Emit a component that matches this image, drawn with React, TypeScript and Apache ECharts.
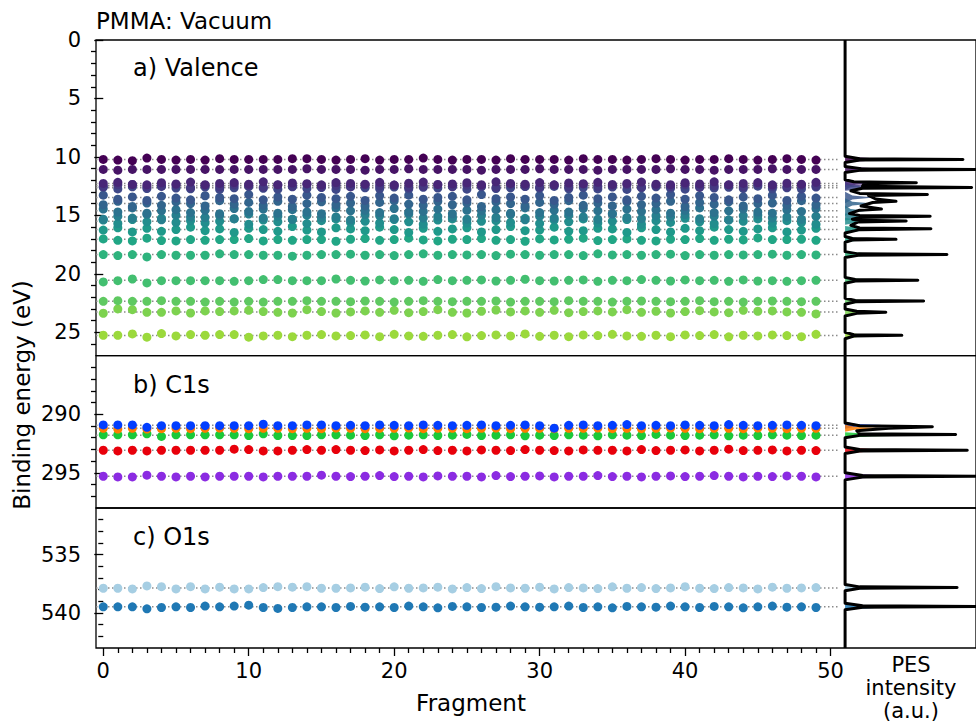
import React, { useEffect, useRef } from "react";
import * as echarts from "echarts";

// ---------------- DATA ----------------
const fragments: number[] = Array.from({ length: 50 }, (_, i) => i);

// Valence levels (mean binding energy, eV)
const valenceLevels = [10.21, 11.07, 12.27, 12.47, 12.64, 13.47, 13.99, 14.61, 15.13, 15.5, 16.21, 17.04, 18.35, 20.55, 22.35, 23.26, 25.28];
// per-fragment deviations from the mean level (in 0.01 eV)
const valenceOffsets = [
  [0,6,11,-11,0,6,0,6,-6,0, 0,0,0,-6,-6,0,6,0,-6,6, 0,0,-11,0,6,0,0,6,-6,0, 0,0,6,-6,0,0,6,0,-6,0, 6,0,0,-6,0,6,0,-6,0,6],
  [0,6,0,0,0,0,0,0,0,0, 0,0,0,0,-6,0,0,0,6,0, 0,-6,0,0,0,0,6,0,0,0, -6,0,0,0,6,0,0,0,0,-6, 0,0,6,0,0,0,-6,0,0,0],
  [0,-10,8,12,-6,4,-12,10,0,-8, 6,-14,10,-4,2,12,-8,0,6,-10, 14,-2,-12,8,4,-6,10,-14,0,6, -8,12,-4,2,-10,8,0,-12,6,10, -6,4,-14,10,0,-8,12,-2,6,-10],
  [6,-8,-12,10,2,-6,14,-4,8,-10, 0,12,-6,4,-14,8,-2,10,-8,0, -6,12,4,-10,8,-4,0,14,-12,2, 10,-6,8,-14,4,0,-8,12,-2,6, -10,14,0,-6,8,-12,4,10,-4,0],
  [-4,10,-8,6,-12,2,8,-6,14,0, -10,4,12,-8,6,-2,14,-12,0,8, -6,10,-4,2,-14,12,-8,6,0,-10, 4,-12,8,-2,10,-6,14,0,-8,4, 12,-10,2,-4,6,-14,8,0,10,-6],
  [-20,15,-5,25,-10,5,20,-15,0,10, -25,20,-5,15,-20,0,10,-10,25,-15, 5,-20,15,0,-10,20,-25,10,-5,15, -15,25,0,-20,10,-5,20,-10,5,-25, 15,-15,0,20,-5,10,-20,25,-10,5],
  [10,-20,25,-5,15,-15,0,20,-25,5, -10,15,-20,25,0,-15,10,-5,20,-10, -25,5,15,-20,10,-5,25,-15,0,20, -10,5,-25,15,-5,20,-15,10,0,-20, 25,-10,5,-15,20,0,-5,15,-25,10],
  [-15,10,-25,20,0,-10,15,-5,25,-20, 5,-15,20,-10,10,25,-25,0,-5,15, -20,10,5,-15,25,-5,0,-10,20,-25, 15,-5,10,-20,0,25,-15,5,-10,20, -5,-25,15,0,-15,10,20,-10,5,-20],
  [20,-5,10,-20,25,-15,0,5,-10,15, -25,10,-5,20,-15,5,0,25,-20,-10, 15,-25,10,-5,0,20,-15,5,-20,25, -5,10,-15,0,20,-25,5,15,-10,0, -20,15,-5,25,-10,-15,10,0,20,-5],
  [-10,20,-15,5,-25,10,-5,15,0,-20, 25,-10,5,-15,20,-5,-20,10,0,15, -15,5,25,-10,-20,15,0,-5,10,-25, 20,-10,5,-20,15,0,-15,25,-5,10, -25,5,20,-10,0,-20,15,-5,10,25],
  [5,-15,20,-10,15,0,-20,10,-5,25, -10,0,15,-25,5,20,-15,-5,10,-20, 0,25,-10,15,-5,-15,20,0,-25,10, 5,-20,15,10,-10,-5,25,-15,0,20, -10,10,-20,0,15,-5,-15,20,5,-10],
  [-3,9,14,-9,11,14,3,9,3,3, -6,14,3,9,3,3,17,0,-6,9, 3,-9,6,14,0,3,-6,9,3,17, -3,6,0,-9,11,3,-3,9,14,0, 3,-6,9,0,6,-11,3,3,0,9],
  [0,9,0,20,0,6,6,6,-6,0, 0,6,6,14,6,0,0,-3,6,0, 9,0,-6,6,0,3,0,9,-3,0, 6,0,0,9,-6,3,0,6,0,-3, 9,0,6,0,3,0,-3,6,0,3],
  [14,3,-11,23,3,3,3,3,3,9, 3,-6,-6,3,3,3,-11,0,6,-3, 3,0,9,-6,3,0,-3,6,0,-9, 3,6,0,-3,9,0,3,-6,0,6, -3,3,0,9,-3,6,3,9,3,0],
  [0,-6,0,0,-6,0,0,6,0,6, 0,6,0,0,-6,0,0,3,-3,0, 6,0,-6,0,3,0,0,-3,6,0, 0,3,-6,0,0,6,0,-3,0,3, 0,-6,3,0,6,0,-3,0,3,0],
  [11,-26,-20,3,3,-9,9,-9,-3,-9, -14,-3,3,9,-20,-3,9,0,-9,3, -14,6,-3,-20,3,9,-6,-17,0,-9, 3,-14,6,-3,-9,0,-20,3,-6,9, -3,-11,0,6,-14,-6,-9,0,3,17],
  [-3,-3,-14,14,-17,3,-9,-3,-9,-9, 14,3,-3,9,-3,-9,3,0,-6,9, -11,3,6,-3,-9,11,0,-6,3,-14, 6,-3,9,-6,0,-11,3,6,-3,9, -6,0,-9,11,-3,3,-6,0,9,-11],
];
// component (fill) peak height (intensity) and half-width (eV)
const valenceFills = [
  [8.0, 0.25], [9.3, 0.25], [3.0, 0.3], [1.5, 0.35], [6.0, 0.25], [2.0, 0.5], [2.0, 0.45], [1.5, 0.45],
  [4.5, 0.3], [3.5, 0.3], [4.5, 0.3], [3.4, 0.3], [6.8, 0.25], [4.9, 0.25], [5.3, 0.25], [2.7, 0.35], [3.8, 0.3],
];
// total PES (intensity, binding energy)
const valenceSpectrum = [
  [0, 0], [0, 9.95], [1.0, 10.15], [8.1, 10.21], [1.0, 10.27], [0, 10.47],
  [0, 10.81], [1.1, 11.01], [9.5, 11.07], [1.1, 11.13], [0, 11.33],
  [0, 11.95], [0.6, 12.12], [4.9, 12.2], [1.3, 12.3], [1.2, 12.5], [8.7, 12.61], [1.2, 12.68], [0.4, 12.9],
  [1.0, 13.12], [5.66, 13.21], [1.6, 13.3], [2.1, 13.6], [3.5, 13.8], [1.9, 13.9], [1.1, 14.2], [2.5, 14.46],
  [1.0, 14.55], [0.3, 14.85], [1.0, 15.0], [5.85, 15.08], [1.0, 15.18], [0.5, 15.33], [1.0, 15.42], [4.2, 15.48],
  [0.9, 15.56], [0.4, 15.85], [1.0, 16.08], [5.9, 16.15], [1.0, 16.22], [0, 16.5],
  [0, 16.8], [0.5, 16.98], [3.5, 17.05], [0.5, 17.11], [0, 17.3],
  [0, 18.1], [0.9, 18.29], [7.0, 18.35], [0.9, 18.41], [0, 18.6],
  [0, 20.3], [0.7, 20.49], [5.0, 20.55], [0.7, 20.61], [0, 20.8],
  [0, 22.08], [0.7, 22.27], [5.4, 22.33], [0.7, 22.39], [0, 22.6],
  [0, 23.0], [0.8, 23.2], [2.8, 23.29], [0.8, 23.38], [0, 23.6],
  [0, 25.0], [0.6, 25.2], [3.9, 25.26], [0.6, 25.32], [0, 25.55], [0, 27],
];

// C1s
const c1sLevels = [290.94, 291.2, 291.78, 293.07, 295.29];
const c1sColors = ["#023eff", "#ff7c00", "#1ac938", "#e8000b", "#8b2be2"];
const c1sOffsets = [
  [-3,-3,-3,17,3,3,3,3,3,3, 3,-9,3,3,-3,-3,3,0,3,-3, 0,3,-3,0,3,0,-3,3,0,-3, 3,25,0,-3,3,0,-6,3,0,3, -3,0,3,-6,0,3,0,-3,0,3],
  [0,6,0,6,3,0,3,0,-3,0, 3,0,0,3,0,3,-3,0,3,0, 0,-3,3,0,0,3,0,-3,3,0, 0,3,0,0,-3,3,0,3,0,-3, 0,3,0,0,3,-3,0,3,0,0],
  [-3,-3,-3,-11,11,-3,-3,-3,-3,-3, 3,-11,3,3,3,-3,-3,0,3,-3, 6,0,-3,3,0,-6,3,0,-3,6, 0,3,-3,0,6,-3,0,3,-6,0, 3,0,-3,6,0,3,-3,0,3,0],
  [0,6,0,6,0,0,0,0,0,-9, -6,6,6,0,-6,0,-6,0,3,-3, 6,0,-6,3,0,6,-3,0,3,-6, 0,3,6,-3,0,0,6,-6,3,0, -3,6,0,-9,3,0,-3,6,0,3],
  [0,6,6,-9,0,6,0,6,0,0, 0,6,0,0,0,-9,0,3,0,-6, 3,0,6,-3,0,0,6,-6,3,0, -3,6,0,0,-6,3,0,6,0,-3, 3,0,-6,0,6,0,3,-3,0,6],
];
const c1sFills = [[3.0, 0.3], [3.0, 0.3], [7.3, 0.25], [8.2, 0.25], [9.4, 0.25]];
const c1sSpectrum = [
  [0, 285], [0, 290.75], [1.0, 290.98], [6.0, 291.07], [3.0, 291.2], [0.8, 291.4], [1.0, 291.66], [7.6, 291.73],
  [1.0, 291.8], [0, 292.0], [0, 292.8], [1.0, 293.01], [8.4, 293.07], [1.0, 293.13], [0, 293.35],
  [0, 295.0], [1.2, 295.23], [9.6, 295.29], [1.2, 295.35], [0, 295.6], [0, 298],
];

// O1s
const o1sLevels = [537.85, 539.47];
const o1sColors = ["#a6cee3", "#1f78b4"];
const o1sOffsets = [
  [3,3,9,-17,-11,9,-11,9,-6,9, 9,-3,-11,-6,-11,3,3,0,-6,6, -9,3,0,-6,9,-3,6,-11,0,3, -6,9,-3,0,6,-9,3,-3,6,0, -11,3,6,-3,0,9,-6,3,0,-3],
  [0,0,0,17,6,0,6,-6,0,-6, -14,6,14,6,0,0,6,-3,3,0, 6,-6,0,9,-3,0,6,3,-6,0, 3,0,-6,6,0,9,-3,0,3,-6, 0,6,-3,0,9,0,-6,3,0,6],
];
const o1sFills = [[7.5, 0.25], [9.4, 0.25]];
const o1sSpectrum = [
  [0, 531], [0, 537.55], [1.0, 537.76], [7.7, 537.82], [1.0, 537.88], [0, 538.1],
  [0, 539.17], [1.2, 539.38], [9.6, 539.44], [1.2, 539.5], [0, 539.72], [0, 543],
];

// Axis ticks
const xMajorTicks = [0, 10, 20, 30, 40, 50];
const yMajorA = [0, 5, 10, 15, 20, 25];
const yMajorB = [290, 295];
const yMajorC = [535, 540];

// ---------------- STYLE HELPERS ----------------
const VIRIDIS = ["#440154","#471365","#482475","#463480","#414487","#3b528b","#355f8d","#2f6c8e","#2a788e","#25848e","#21918c","#1e9c89","#22a884","#2fb47c","#44bf70","#5ec962","#7ad151","#95d840","#b5de2b","#dde318","#fde725"];
function hex2rgb(h: string) { return [parseInt(h.slice(1, 3), 16), parseInt(h.slice(3, 5), 16), parseInt(h.slice(5, 7), 16)]; }
function viridis(t: number) {
  const x = Math.max(0, Math.min(1, t)) * 20;
  const i = Math.min(19, Math.floor(x));
  const f = x - i;
  const a = hex2rgb(VIRIDIS[i]), b = hex2rgb(VIRIDIS[i + 1]);
  const c = a.map((v, k) => Math.round(v + (b[k] - v) * f));
  return `rgb(${c[0]},${c[1]},${c[2]})`;
}
const valenceColors = valenceLevels.map((_, i) => viridis((i / (valenceLevels.length - 1)) * 0.86));

const BASE = 51;
const PROFILE = [[0, -1], [0.25, -0.35], [1, 0], [0.25, 0.35], [0, 1]];
const FONT = "DejaVu Sans";
const range = (a: number, b: number) => Array.from({ length: b - a + 1 }, (_, i) => a + i);

export default function App() {
  const ref = useRef<HTMLDivElement>(null);
  useEffect(() => {
    if (!ref.current) return;
    const chart = echarts.init(ref.current, undefined, { renderer: "svg" });
    const L = 96, W = 880.5;
    const grids = [
      { left: L, top: 40, width: W, height: 315.7 },
      { left: L, top: 355.7, width: W, height: 152.3 },
      { left: L, top: 508, width: W, height: 140 },
    ].map((g) => ({ ...g, show: true, borderColor: "#000", borderWidth: 1.3, backgroundColor: "transparent" }));

    const tickStyle = { color: "#000", width: 1.3 };
    const xAxes: any[] = [0, 1, 2].map((gi) => ({
      gridIndex: gi, type: "value", min: -0.5, max: 60, show: gi === 2,
      axisLine: { show: false }, splitLine: { show: false },
      axisTick: { show: true, customValues: xMajorTicks, length: 8, lineStyle: tickStyle },
      axisLabel: { show: true, customValues: xMajorTicks, fontSize: 21, fontFamily: FONT, color: "#000", margin: 12 },
    }));
    xAxes.push({
      gridIndex: 2, type: "value", min: -0.5, max: 60, position: "bottom",
      axisLine: { show: false }, splitLine: { show: false }, axisLabel: { show: false },
      axisTick: { show: true, customValues: range(0, 50).filter((v) => v % 10 !== 0), length: 5, lineStyle: tickStyle },
    });

    const yDefs = [
      { gi: 0, min: 0, max: 27, major: yMajorA, minor: range(1, 26).filter((v) => v % 5 !== 0) },
      { gi: 1, min: 285, max: 298, major: yMajorB, minor: range(286, 297).filter((v) => v % 5 !== 0) },
      { gi: 2, min: 531, max: 543, major: yMajorC, minor: range(532, 542).filter((v) => v % 5 !== 0) },
    ];
    const yAxes: any[] = [];
    yDefs.forEach((d) => {
      yAxes.push({
        gridIndex: d.gi, type: "value", min: d.min, max: d.max, inverse: true, position: "left",
        axisLine: { show: false }, splitLine: { show: false },
        axisTick: { show: true, customValues: d.major, length: 9, lineStyle: tickStyle },
        axisLabel: { show: true, customValues: d.major, fontSize: 21, fontFamily: FONT, color: "#000", margin: 15 },
      });
      yAxes.push({
        gridIndex: d.gi, type: "value", min: d.min, max: d.max, inverse: true, position: "left",
        axisLine: { show: false }, splitLine: { show: false }, axisLabel: { show: false },
        axisTick: { show: true, customValues: d.minor, length: 5, lineStyle: tickStyle },
      });
    });

    const series: any[] = [];
    const panel = (levels: number[], offsets: number[][], colors: string[], fills: number[][], spectrum: number[][], xi: number, yi: number) => {
      levels.forEach((E) => {
        series.push({
          type: "line", xAxisIndex: xi, yAxisIndex: yi, silent: true, symbol: "none", z: 1,
          data: [[-0.5, E], [50.5, E]],
          lineStyle: { color: "#8a8a8a", width: 1.5, type: [1.5, 2.5] },
        });
      });
      series.push({
        type: "custom", xAxisIndex: xi, yAxisIndex: yi, silent: true, z: 2, clip: true,
        data: levels.map((E) => [BASE, E]),
        renderItem: (params: any, api: any) => {
          const i = params.dataIndex;
          const [h, w] = fills[i];
          const E = levels[i];
          const points = PROFILE.map(([a, b]) => api.coord([BASE + a * h, E + b * w]));
          return { type: "polygon", shape: { points }, style: { fill: colors[i], opacity: 0.85 } };
        },
      });
      for (let k = levels.length - 1; k >= 0; k--) {
        series.push({
          type: "scatter", xAxisIndex: xi, yAxisIndex: yi, silent: true, z: 3, symbolSize: 9,
          itemStyle: { color: colors[k], opacity: 1 },
          data: offsets[k].map((o, i) => [fragments[i], levels[k] + o / 100]),
        });
      }
      series.push({
        type: "line", xAxisIndex: xi, yAxisIndex: yi, silent: true, symbol: "none", z: 4, clip: true,
        data: spectrum.map(([I, E]) => [BASE + I, E]),
        lineStyle: { color: "#000", width: 3, join: "round" },
      });
    };
    panel(valenceLevels, valenceOffsets, valenceColors, valenceFills, valenceSpectrum, 0, 0);
    panel(c1sLevels, c1sOffsets, c1sColors, c1sFills, c1sSpectrum, 1, 2);
    panel(o1sLevels, o1sOffsets, o1sColors, o1sFills, o1sSpectrum, 2, 4);

    const txt = (text: string, x: number, y: number, size: number, align = "left", extra: any = {}) => ({
      type: "text", x, y, z: 10, ...extra,
      style: { text, fill: "#000", font: `${size}px "${FONT}"`, textAlign: align, textVerticalAlign: "middle" },
    });

    chart.setOption({
      animation: false,
      grid: grids,
      xAxis: xAxes,
      yAxis: yAxes,
      series,
      graphic: [
        txt("PMMA: Vacuum", 96, 21, 23),
        txt("a) Valence", 133, 68, 24),
        txt("b) C1s", 133, 385, 24),
        txt("c) O1s", 133, 537, 24),
        txt("Fragment", 471, 703, 23, "center"),
        txt("PES", 911, 665, 21, "center"),
        txt("intensity", 911, 688, 21, "center"),
        txt("(a.u.)", 911, 711, 21, "center"),
        txt("Binding energy (eV)", 22, 395, 23, "center", { rotation: Math.PI / 2 }),
      ],
    });
    return () => chart.dispose();
  }, []);
  return <div ref={ref} style={{ position: "absolute", left: 0, top: 0, width: 976, height: 725, background: "#fff" }} />;
}
